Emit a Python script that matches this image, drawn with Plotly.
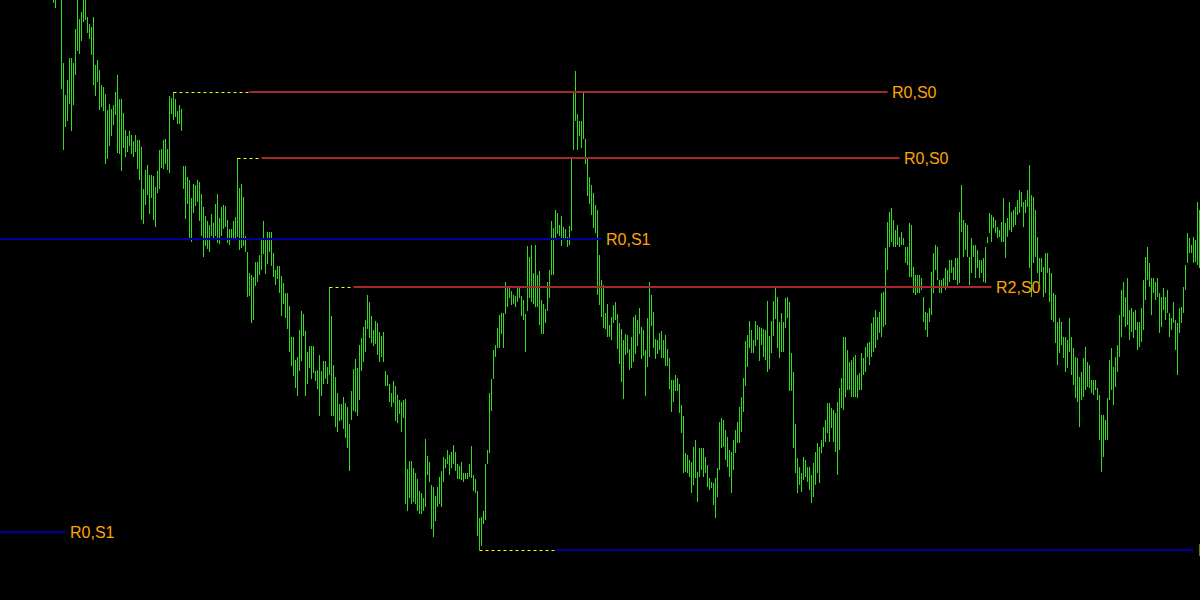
import plotly.graph_objects as go

# Bar highs / lows (price points), one bar per row entry, oldest first.
HIGH = [
    610, 612, 640, 630, 615, 537, 505, 520, 542, 542,
    537, 571, 605, 581, 588, 605, 608, 583, 576, 573,
    583, 535, 540, 530, 515, 513, 506, 490, 496, 491,
    495, 508, 525, 501, 501, 487, 470, 464, 469, 465,
    459, 465, 460, 460, 453, 411, 430, 435, 425, 425,
    424, 413, 429, 450, 451, 460, 461, 451, 504, 502,
    508, 501, 489, 495, 491, 434, 434, 423, 420, 402,
    416, 415, 420, 418, 406, 393, 384, 379, 375, 386,
    377, 396, 406, 382, 393, 395, 394, 380, 371, 371,
    379, 383, 442, 412, 416, 403, 364, 348, 327, 325,
    323, 338, 338, 345, 362, 379, 362, 368, 368, 368,
    347, 330, 334, 334, 324, 317, 307, 307, 294, 263,
    263, 240, 243, 270, 289, 286, 269, 248, 254, 254,
    254, 229, 230, 245, 229, 239, 239, 233, 313, 284,
    235, 223, 207, 196, 196, 203, 197, 193, 176, 209,
    231, 241, 232, 255, 262, 273, 280, 305, 298, 284,
    270, 279, 277, 268, 264, 268, 229, 225, 216, 207,
    219, 214, 205, 200, 198, 200, 201, 131, 139, 139,
    132, 127, 121, 109, 107, 102, 161, 144, 138, 115,
    113, 104, 113, 123, 129, 143, 141, 150, 145, 148,
    155, 148, 136, 134, 138, 127, 127, 127, 136, 154,
    125, 121, 109, 82, 83, 89, 136, 150, 207, 221,
    250, 255, 272, 285, 287, 287, 318, 314, 312, 309,
    305, 304, 312, 312, 304, 300, 286, 354, 343, 355,
    327, 355, 325, 329, 300, 296, 291, 318, 330, 379,
    372, 390, 387, 375, 384, 373, 371, 363, 374, 441,
    508, 529, 486, 479, 479, 507, 461, 443, 423, 415,
    407, 395, 390, 345, 320, 315, 287, 296, 275, 283,
    295, 298, 286, 277, 271, 260, 266, 265, 251, 263,
    283, 285, 280, 292, 273, 270, 250, 282, 318, 305,
    288, 261, 260, 267, 269, 260, 265, 251, 242, 220,
    220, 225, 222, 216, 195, 184, 147, 145, 140, 138,
    153, 160, 128, 152, 152, 152, 143, 135, 122, 118,
    117, 122, 132, 178, 182, 180, 170, 163, 150, 148,
    160, 170, 178, 193, 203, 222, 259, 265, 279, 270,
    260, 279, 275, 273, 272, 271, 270, 299, 264, 279,
    299, 312, 303, 278, 287, 278, 302, 303, 298, 247,
    228, 176, 142, 133, 127, 143, 140, 133, 133, 125,
    137, 148, 157, 153, 160, 173, 180, 197, 197, 192,
    190, 187, 198, 212, 222, 263, 263, 250, 238, 240,
    243, 245, 225, 227, 247, 242, 253, 257, 258, 277,
    283, 290, 283, 288, 307, 308, 352, 378, 388, 392,
    380, 370, 375, 363, 368, 362, 353, 353, 377, 375,
    333, 325, 325, 325, 322, 303, 288, 287, 292, 328,
    347, 355, 353, 320, 320, 322, 332, 330, 340, 340,
    333, 342, 342, 388, 415, 380, 377, 375, 343, 362,
    355, 355, 350, 340, 340, 342, 353, 363, 387, 385,
    383, 380, 373, 370, 378, 402, 377, 382, 398, 388,
    390, 393, 400, 410, 408, 398, 400, 410, 435, 405,
    403, 390, 363, 342, 342, 333, 347, 347, 332, 327,
    307, 305, 278, 282, 278, 263, 263, 260, 282, 263,
    252, 243, 242, 223, 228, 242, 253, 238, 235, 220,
    220, 220, 212, 205, 185, 185, 180, 202, 240, 252,
    233, 243, 255, 285, 310, 318, 303, 322, 290, 292,
    288, 290, 278, 278, 292, 320, 343, 353, 337, 322,
    322, 318, 322, 307, 303, 312, 303, 310, 287, 282,
    298, 280, 277, 292, 293, 313, 335, 367, 362, 355,
    363, 360, 398, 390,
]

LOW = [
    597, 592, 606, 604, 511, 450, 473, 479, 496, 469,
    495, 525, 549, 546, 559, 578, 580, 567, 561, 545,
    515, 504, 518, 490, 493, 489, 436, 441, 454, 464,
    475, 485, 447, 446, 429, 452, 443, 448, 454, 446,
    443, 448, 431, 420, 380, 376, 395, 405, 386, 402,
    380, 373, 407, 411, 432, 431, 436, 430, 427, 486,
    480, 483, 476, 476, 469, 411, 381, 396, 361, 358,
    387, 394, 398, 379, 364, 343, 354, 351, 348, 364,
    361, 364, 357, 356, 364, 371, 373, 357, 355, 362,
    362, 360, 363, 350, 352, 354, 348, 303, 304, 277,
    280, 314, 318, 325, 330, 346, 326, 336, 348, 334,
    323, 315, 321, 307, 284, 296, 282, 271, 248, 234,
    224, 212, 204, 229, 239, 264, 204, 216, 232, 221,
    227, 219, 211, 184, 204, 216, 221, 216, 225, 184,
    184, 173, 168, 179, 180, 171, 162, 152, 129, 180,
    189, 188, 184, 200, 229, 238, 248, 271, 262, 257,
    254, 256, 245, 238, 243, 238, 214, 214, 198, 193,
    197, 179, 177, 186, 168, 182, 96, 89, 102, 96,
    98, 96, 89, 86, 86, 89, 93, 125, 118, 71,
    63, 79, 93, 96, 93, 118, 132, 136, 125, 132,
    136, 129, 121, 121, 120, 118, 121, 121, 123, 122,
    109, 107, 64, 50, 54, 76, 80, 136, 147, 189,
    221, 243, 252, 252, 266, 252, 286, 293, 302, 295,
    296, 293, 298, 302, 284, 280, 248, 289, 302, 298,
    296, 293, 293, 275, 266, 266, 277, 289, 302, 325,
    325, 361, 366, 364, 354, 360, 362, 353, 355, 369,
    450, 479, 450, 464, 452, 461, 436, 404, 396, 385,
    372, 367, 305, 295, 283, 272, 271, 263, 263, 260,
    277, 280, 251, 236, 218, 201, 245, 247, 230, 232,
    238, 246, 254, 266, 241, 244, 204, 233, 243, 274,
    252, 241, 246, 250, 242, 242, 234, 234, 211, 188,
    198, 209, 209, 187, 167, 127, 128, 127, 123, 107,
    115, 122, 98, 123, 130, 123, 127, 113, 110, 112,
    95, 82, 103, 130, 152, 153, 140, 133, 123, 107,
    130, 147, 157, 157, 168, 188, 214, 233, 252, 247,
    247, 254, 260, 239, 255, 243, 240, 228, 231, 247,
    264, 281, 252, 242, 248, 248, 272, 282, 209, 209,
    152, 127, 107, 115, 108, 120, 123, 118, 110, 97,
    103, 115, 127, 117, 147, 153, 158, 167, 158, 172,
    158, 148, 125, 150, 192, 190, 203, 210, 210, 203,
    203, 203, 202, 210, 210, 225, 228, 243, 235, 243,
    248, 252, 260, 267, 263, 273, 275, 330, 353, 358,
    353, 353, 355, 353, 355, 355, 337, 335, 323, 323,
    307, 305, 307, 307, 310, 278, 270, 263, 278, 285,
    307, 330, 320, 307, 307, 312, 310, 312, 318, 327,
    320, 320, 315, 317, 368, 343, 350, 343, 315, 327,
    343, 322, 332, 322, 327, 318, 317, 357, 367, 358,
    372, 367, 362, 363, 358, 358, 342, 363, 370, 368,
    373, 375, 385, 387, 393, 373, 387, 393, 332, 303,
    337, 343, 327, 317, 328, 303, 307, 327, 298, 280,
    278, 257, 235, 247, 255, 242, 228, 232, 248, 225,
    215, 202, 198, 173, 200, 203, 210, 213, 212, 207,
    205, 210, 200, 160, 128, 143, 160, 160, 200, 210,
    195, 213, 228, 243, 263, 283, 273, 275, 260, 268,
    262, 270, 250, 253, 258, 270, 300, 320, 313, 285,
    307, 300, 303, 267, 273, 290, 280, 287, 263, 270,
    277, 250, 225, 267, 277, 287, 310, 337, 347, 347,
    337, 338, 335, 332,
]

# Support / resistance levels (price, bar where it starts, bar where solid part starts,
# bar where it ends, kind, label)
LEVEL_PRICE = [508, 442, 361, 313, 68, 50]
LEVEL_START = [60, 92, -40, 138, -40, 213]
LEVEL_SOLID = [98, 104, -40, 150, -40, 251]
LEVEL_END = [417, 423, 274, 469, 6, 570]
LEVEL_KIND = ["res", "res", "sup", "res", "sup", "sup"]
LEVEL_LABEL = ["R0,S0", "R0,S0", "R0,S1", "R2,S0", "R0,S1", "R0,S1"]

BAR_COLOR = "#30DC1E"
RES_COLOR = "#A52A2A"
SUP_COLOR = "#00009C"
DASH_COLOR = "#FFFF00"
LABEL_COLOR = "#FFA500"

fig = go.Figure()

# price bars as vertical high-low lines
bx, by = [], []
for i, (h, l) in enumerate(zip(HIGH, LOW)):
    bx += [i, i, None]
    by += [l, h, None]
fig.add_trace(go.Scatter(x=bx, y=by, mode="lines",
                         line=dict(color=BAR_COLOR, width=1),
                         hoverinfo="skip", showlegend=False))

annotations = []
for p, s, so, e, k, lab in zip(LEVEL_PRICE, LEVEL_START, LEVEL_SOLID,
                               LEVEL_END, LEVEL_KIND, LEVEL_LABEL):
    col = RES_COLOR if k == "res" else SUP_COLOR
    if so > s:
        fig.add_trace(go.Scatter(x=[s, so], y=[p - 0.5, p - 0.5], mode="lines",
                                 line=dict(color=DASH_COLOR, width=1, dash="3px,3px"),
                                 hoverinfo="skip", showlegend=False))
    fig.add_trace(go.Scatter(x=[so, e], y=[p, p], mode="lines",
                             line=dict(color=col, width=2),
                             hoverinfo="skip", showlegend=False))
    annotations.append(dict(x=e + 1.0, y=p, xref="x", yref="y", text=lab,
                            showarrow=False, xanchor="left", yanchor="middle",
                            font=dict(family="Liberation Sans, Arial, sans-serif",
                                      size=16, color=LABEL_COLOR)))

fig.update_layout(
    width=1200, height=600,
    margin=dict(l=0, r=0, t=0, b=0, pad=0),
    paper_bgcolor="black", plot_bgcolor="black",
    xaxis=dict(visible=False, range=[-26.75, 573.25], fixedrange=True),
    yaxis=dict(visible=False, range=[0, 600], fixedrange=True),
    showlegend=False, hovermode=False,
    annotations=annotations,
)

fig.write_html("out.html", config={"displayModeBar": False},
               post_script="document.body.style.margin='0';document.body.style.overflow='hidden';")
